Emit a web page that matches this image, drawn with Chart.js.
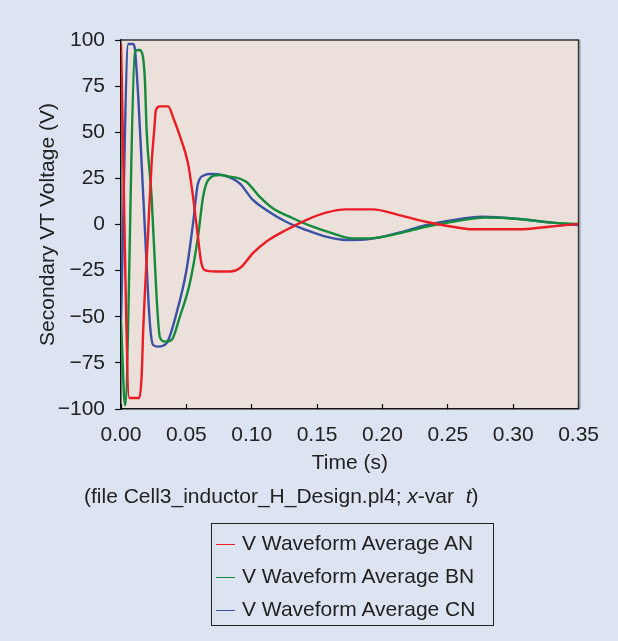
<!DOCTYPE html>
<html>
<head>
<meta charset="utf-8">
<title>Secondary VT Voltage</title>
<script src="https://cdn.jsdelivr.net/npm/chart.js@4.4.1/dist/chart.umd.min.js"></script>
<style>
  html, body { margin: 0; padding: 0; background: #dce3f1; }
  #wrap { position: relative; width: 618px; height: 641px; font-family: "Liberation Sans", Arial, sans-serif; color: #222; }
  #chart { position: absolute; left: 0; top: 0; }
  #note { position: absolute; left: 84px; top: 484px; font-size: 21px; white-space: nowrap; }
  #legend { position: absolute; left: 211px; top: 523px; width: 283px; height: 103px; border: 1.5px solid #222; box-sizing: border-box; }
  .item { position: absolute; left: 4px; height: 26px; font-size: 21px; line-height: 26px; white-space: nowrap; }
  .swatch { display: inline-block; width: 19px; height: 0; border-top: 1.5px solid; vertical-align: middle; margin-right: 7px; }
</style>
</head>
<body>
<div id="wrap">
  <canvas id="chart" width="618" height="641"></canvas>
  <div id="note">(file Cell3_inductor_H_Design.pl4; <i>x</i>-var&nbsp; <i>t</i>)</div>
  <div id="legend"></div>
</div>
<script>
// series (time in s, voltage in V)
const timeAN = [0, 0.0064, 0.0140, 0.0158, 0.0170, 0.0208, 0.0234, 0.0254, 0.0267, 0.0297, 0.0361, 0.0399, 0.0450, 0.0513, 0.0551, 0.0589, 0.0615, 0.0653, 0.0755, 0.0831, 0.0920, 0.1009, 0.1111, 0.1263, 0.1416, 0.1568, 0.1721, 0.1924, 0.2127, 0.2331, 0.2534, 0.2686, 0.3042, 0.3271, 0.35];
const voltAN = [98, -94, -94, -82, -57, -3, 33, 51, 62, 64, 64, 58, 48, 33, 15, -7, -21, -25, -25.5, -25.5, -23, -15.5, -9.3, -3, 2.4, 6.4, 8.2, 8.2, 5.1, 1.5, -1.2, -2.6, -2.6, -1.2, 0.3];

const timeBN = [0, 0.0031, 0.0107, 0.0140, 0.0165, 0.0183, 0.0196, 0.0234, 0.0272, 0.0297, 0.0336, 0.0387, 0.0450, 0.0526, 0.0589, 0.0628, 0.0666, 0.0755, 0.0806, 0.0958, 0.1060, 0.1161, 0.1314, 0.1466, 0.1619, 0.1771, 0.1899, 0.2127, 0.2331, 0.2534, 0.2788, 0.3042, 0.3296, 0.35];
const voltBN = [-52, -98, 94, 94.6, 92, 78, 51, 15, -39, -61, -63.5, -62.6, -50, -32, -6.6, 15, 24, 26.8, 26.3, 23.2, 15.1, 8.8, 3.4, -1.2, -4.8, -7.5, -7.5, -4.8, -1.2, 1.5, 3.7, 3.0, 1.0, 0.3];

const timeCN = [0, 0.0056, 0.0094, 0.0107, 0.0132, 0.0158, 0.0183, 0.0221, 0.0246, 0.0284, 0.0348, 0.0425, 0.0501, 0.0551, 0.0589, 0.0641, 0.0679, 0.0780, 0.0907, 0.1009, 0.1111, 0.1263, 0.1416, 0.1568, 0.1721, 0.1899, 0.2127, 0.2331, 0.2534, 0.2763, 0.3042, 0.3296, 0.35];
const voltCN = [-52, 97.8, 97.8, 94.6, 69, 33, -3, -53.6, -65.3, -66.2, -64.4, -48, -24.7, 0.6, 22.3, 26.8, 27.4, 26.8, 22.3, 13.3, 7.9, 1.5, -3, -6.6, -8.4, -7.9, -4.4, -0.3, 2.4, 4.2, 3.0, 1.0, -0.3];

const seriesNames = ['V Waveform Average AN', 'V Waveform Average BN', 'V Waveform Average CN'];
const seriesColors = ['#ec1c24', '#148a3c', '#3a52a6'];

const xTicks = [0, 0.05, 0.10, 0.15, 0.20, 0.25, 0.30, 0.35];
const yTicks = [-100, -75, -50, -25, 0, 25, 50, 75, 100];

function toPoints(ts, vs) {
    return ts.map((t, i) => ({ x: t, y: vs[i] }));
}

// plot background and top/right frame
const plotFrame = {
    id: 'plotFrame',
    beforeDraw(chart) {
        const { ctx, chartArea: a } = chart;
        ctx.save();
        ctx.fillStyle = '#ebe0da';
        ctx.fillRect(a.left, a.top, a.right - a.left, a.bottom - a.top);
        ctx.restore();
    },
    afterDraw(chart) {
        const { ctx, chartArea: a } = chart;
        ctx.save();
        ctx.strokeStyle = '#333';
        ctx.lineWidth = 1.5;
        ctx.beginPath();
        ctx.moveTo(a.left, a.top);
        ctx.lineTo(a.right, a.top);
        ctx.lineTo(a.right, a.bottom);
        ctx.stroke();
        ctx.strokeStyle = 'rgba(80,80,80,0.5)';
        ctx.lineWidth = 1;
        ctx.beginPath();
        ctx.moveTo(a.right + 1.5, a.top);
        ctx.lineTo(a.right + 1.5, a.bottom);
        ctx.stroke();
        ctx.restore();
    }
};

Chart.defaults.font.family = '"Liberation Sans", Arial, sans-serif';
Chart.defaults.font.size = 21;
Chart.defaults.color = '#222';

const chart = new Chart(document.getElementById('chart'), {
    type: 'line',
    data: {
        datasets: [
            { label: seriesNames[0], data: toPoints(timeAN, voltAN), borderColor: seriesColors[0] },
            { label: seriesNames[1], data: toPoints(timeBN, voltBN), borderColor: seriesColors[1] },
            { label: seriesNames[2], data: toPoints(timeCN, voltCN), borderColor: seriesColors[2] }
        ]
    },
    options: {
        responsive: false,
        animation: false,
        devicePixelRatio: 1,
        datasets: {
            line: { borderWidth: 2.4, pointRadius: 0, fill: false, cubicInterpolationMode: 'monotone' }
        },
        layout: {
            autoPadding: false,
            padding: { left: 36, top: 40, right: 38, bottom: 165 }
        },
        plugins: {
            legend: { display: false },
            tooltip: { enabled: false }
        },
        scales: {
            x: {
                type: 'linear',
                min: 0,
                max: 0.35,
                afterBuildTicks: s => { s.ticks = xTicks.map(v => ({ value: v })); },
                afterFit: s => { s.height = 67; },
                ticks: {
                    padding: 19,
                    maxRotation: 0,
                    callback: v => v.toFixed(2)
                },
                grid: { drawOnChartArea: false, tickLength: -5, color: '#111', tickWidth: 1.2 },
                border: { color: '#111', width: 1.5 },
                title: { display: true, text: 'Time (s)', padding: 0 }
            },
            y: {
                min: -100,
                max: 100,
                afterBuildTicks: s => { s.ticks = yTicks.map(v => ({ value: v })); },
                afterFit: s => { s.width = 85; },
                ticks: {
                    padding: 10,
                    callback: v => (v < 0 ? '\u2212' + Math.abs(v) : String(v))
                },
                grid: { drawOnChartArea: false, tickLength: 6, color: '#111', tickWidth: 1.2 },
                border: { color: '#111', width: 1.5 },
                title: { display: true, text: 'Secondary VT Voltage (V)', padding: 0 }
            }
        }
    },
    plugins: [plotFrame]
});

// boxed legend under the footnote
const legendBox = document.getElementById('legend');
chart.data.datasets.forEach((ds, i) => {
    const row = document.createElement('div');
    row.className = 'item';
    row.style.top = (6 + i * 33) + 'px';
    row.innerHTML = '<span class="swatch" style="border-color:' + ds.borderColor + '"></span>' + ds.label;
    legendBox.appendChild(row);
});
</script>
</body>
</html>
